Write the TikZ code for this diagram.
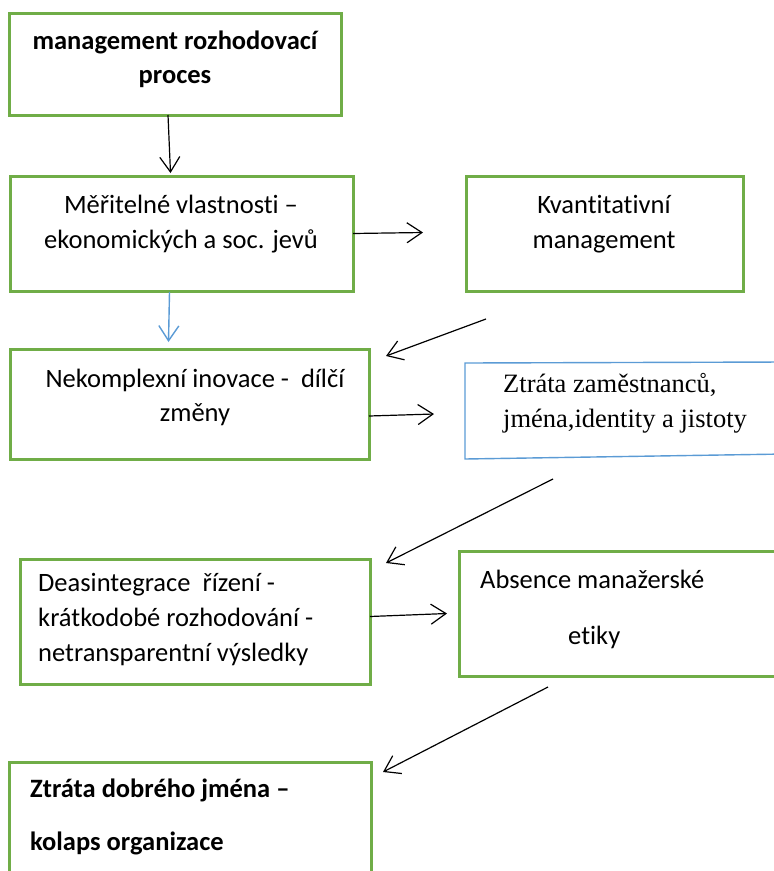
\documentclass[tikz,border=0pt]{standalone}
\usepackage{fontspec}
\setmainfont{Carlito}[Ligatures=NoCommon]
\newfontfamily\timesfont{Liberation Serif}
\usetikzlibrary{arrows.meta,calc}
\definecolor{boxgreen}{HTML}{70AD47}
\definecolor{boxblue}{HTML}{5B9BD5}
\tikzset{
  greenbox/.style={draw=boxgreen, line width=3pt, rectangle, inner sep=0pt, outer sep=0pt, anchor=north west},
  ghostbox/.style={rectangle, inner sep=0pt, outer sep=0pt, anchor=north west},
  blueline/.style={draw=boxblue, line width=1.4pt},
  arr/.style={draw=black, line width=1.2pt, -{Straight Barb[length=15pt,width=20pt,line width=1.2pt]}},
  bluearr/.style={draw=boxblue, line width=1.4pt, -{Straight Barb[length=15pt,width=20pt,line width=1.4pt]}},
  txt/.style={inner sep=0pt, font=\fontsize{26.5}{32}\selectfont},
  btxt/.style={txt, font=\fontsize{26.5}{32}\selectfont\bfseries},
  ttxt/.style={inner sep=0pt, font=\fontsize{26.5}{32}\selectfont\timesfont},
}
\begin{document}
\begin{tikzpicture}[x=1pt,y=-1pt]
\useasboundingbox (0,0) rectangle (774,871);

% boxes
\node[greenbox, minimum width=332pt, minimum height=102pt] (b1) at (9,13) {};
\node[greenbox, minimum width=343pt, minimum height=115pt] (b2) at (10,176) {};
\node[greenbox, minimum width=277pt, minimum height=115pt] (b3) at (466,176) {};
\node[greenbox, minimum width=359pt, minimum height=110pt] (b4) at (10,349) {};
\node[ghostbox, minimum width=320pt, minimum height=96pt] (b5) at (465,363) {};
\draw[blueline] ($(b5.north east)+(0,-1)$) -- (b5.north west) -- (b5.south west) -- ($(b5.south east)+(0,-5)$);
\node[greenbox, minimum width=350pt, minimum height=125pt] (b6) at (20,559) {};
\node[greenbox, minimum width=330pt, minimum height=125pt] (b7) at (459,551) {};
\node[greenbox, minimum width=362pt, minimum height=140pt] (b8) at (9,762) {};

% texts
\node[btxt, anchor=base] (t1a) at (175,49) {management rozhodovací};
\node[btxt, anchor=base] (t1b) at (175,83) {proces};
\node[txt, anchor=base] (t2a) at (181,213) {Měřitelné vlastnosti –};
\node[txt, anchor=base] (t2b) at (181,248) {ekonomických a soc. jevů};
\node[txt, anchor=base] (t3a) at (604,213) {Kvantitativní};
\node[txt, anchor=base] (t3b) at (604,248) {management};
\node[txt, anchor=base] (t4a) at (195,387) {Nekomplexní inovace -\ \ dílčí};
\node[txt, anchor=base] (t4b) at (195,421) {změny};
\node[ttxt, anchor=base west] (t5a) at (503,392) {Ztráta zaměstnanců,};
\node[ttxt, anchor=base west] (t5b) at (503,427) {jména,identity a jistoty};
\node[txt, anchor=base west] (t6a) at (38,591) {Deasintegrace\ \ řízení -};
\node[txt, anchor=base west] (t6b) at (38,626) {krátkodobé rozhodování -};
\node[txt, anchor=base west] (t6c) at (38,661) {netransparentní výsledky};
\node[txt, anchor=base west] (t7a) at (480,588) {Absence manažerské};
\node[txt, anchor=base west] (t7b) at (568,644) {etiky};
\node[btxt, anchor=base west] (t8a) at (30,797) {Ztráta dobrého jména –};
\node[btxt, anchor=base west] (t8b) at (30,850) {kolaps organizace};

% connector end points
\coordinate (a1s) at ($(b1.south)+(-7,0)$);
\coordinate (a1e) at ($(b2.north)+(-11,-3)$);
\coordinate (a2s) at (b2.east);
\coordinate (a2e) at ($(b3.west)+(-43,-1)$);
\coordinate (a3s) at ($(b2.south)+(-12,1)$);
\coordinate (a3e) at ($(b4.north)+(-21,-7)$);
\coordinate (a4s) at ($(b3.south west)+(20,28)$);
\coordinate (a4e) at ($(b4.north east)+(17,7)$);
\coordinate (a5s) at ($(b4.east)+(0,12)$);
\coordinate (a5e) at ($(b5.west)+(-31,3)$);
\coordinate (a6s) at ($(b5.south west)+(88,20)$);
\coordinate (a6e) at ($(b6.north east)+(16,4)$);
\coordinate (a7s) at ($(b6.east)+(0,-5)$);
\coordinate (a7e) at ($(b7.west)+(-12,0)$);
\coordinate (a8s) at ($(b7.south west)+(89,11)$);
\coordinate (a8e) at ($(b8.north east)+(12,10)$);

% connectors
\draw[arr] (a1s) -- (a1e);
\draw[arr] (a2s) -- (a2e);
\draw[bluearr] (a3s) -- (a3e);
\draw[arr] (a4s) -- (a4e);
\draw[arr] (a5s) -- (a5e);
\draw[arr] (a6s) -- (a6e);
\draw[arr] (a7s) -- (a7e);
\draw[arr] (a8s) -- (a8e);
\end{tikzpicture}
\end{document}
